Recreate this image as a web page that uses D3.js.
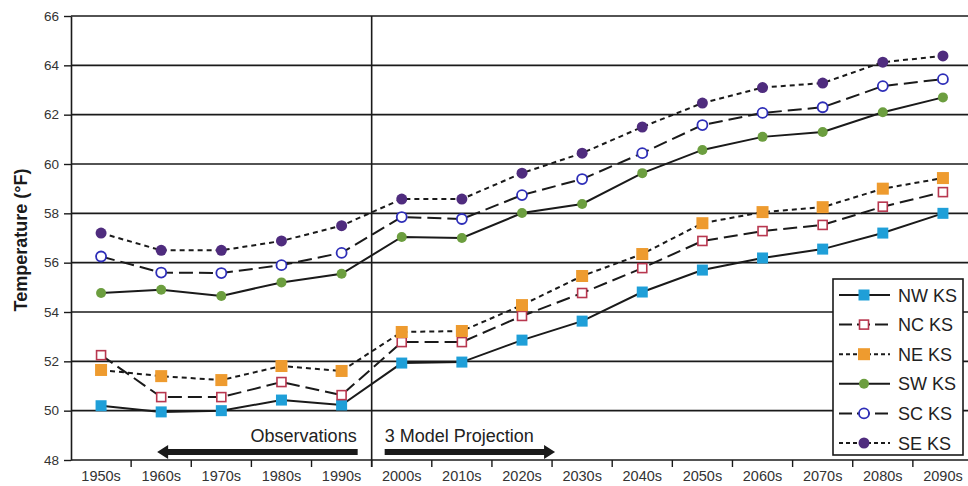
<!DOCTYPE html>
<html>
<head>
<meta charset="utf-8">
<script src="https://cdn.jsdelivr.net/npm/d3@7"></script>
<style>
  body { margin: 0; background: #fff; }
  svg { display: block; font-family: "Liberation Sans", Arial, Helvetica, sans-serif; }
</style>
</head>
<body>
<svg id="chart" width="968" height="486"></svg>
<script>
// Decadal mean temperatures (°F) for six Kansas regions
const decades = ["1950s","1960s","1970s","1980s","1990s","2000s","2010s","2020s",
                 "2030s","2040s","2050s","2060s","2070s","2080s","2090s"];
const yTickValues = [48, 50, 52, 54, 56, 58, 60, 62, 64, 66];

const nwKS = [50.2, 49.95, 50.0, 50.43, 50.23, 51.93, 51.97, 52.86, 53.63, 54.81, 55.7, 56.19, 56.55, 57.2, 58.0];
const ncKS = [52.25, 50.55, 50.55, 51.16, 50.63, 52.78, 52.78, 53.84, 54.77, 55.78, 56.88, 57.28, 57.53, 58.27, 58.86];
const neKS = [51.65, 51.4, 51.24, 51.81, 51.61, 53.19, 53.23, 54.28, 55.46, 56.35, 57.6, 58.05, 58.25, 59.0, 59.43];
const swKS = [54.77, 54.9, 54.65, 55.2, 55.55, 57.04, 57.0, 58.01, 58.38, 59.63, 60.57, 61.1, 61.3, 62.1, 62.7];
const scKS = [56.25, 55.6, 55.58, 55.9, 56.4, 57.85, 57.77, 58.74, 59.39, 60.44, 61.58, 62.07, 62.3, 63.16, 63.44];
const seKS = [57.2, 56.5, 56.5, 56.88, 57.5, 58.58, 58.58, 59.63, 60.44, 61.5, 62.47, 63.1, 63.28, 64.13, 64.38];

const seriesNames = ["NW KS", "NC KS", "NE KS", "SW KS", "SC KS", "SE KS"];
const seriesValues = [nwKS, ncKS, neKS, swKS, scKS, seKS];
const observedCount = 5; // first five decades are observations

// Drawing styles per series
const styles = [
  { dash: null,   shape: "square", size: 11, fill: "#1f9fd8", stroke: "#1f9fd8", sw: 0 },
  { dash: "14,6", shape: "square", size: 9,  fill: "#fff",    stroke: "#b8374f", sw: 1.6 },
  { dash: "5,4",  shape: "square", size: 12, fill: "#ee9b2f", stroke: "#ee9b2f", sw: 0 },
  { dash: null,   shape: "circle", size: 10, fill: "#6c9e3f", stroke: "#6c9e3f", sw: 0 },
  { dash: "14,6", shape: "circle", size: 10, fill: "#fff",    stroke: "#2e2eb8", sw: 1.8 },
  { dash: "5,4",  shape: "circle", size: 11, fill: "#4f2c7e", stroke: "#4f2c7e", sw: 0 }
];

const W = 968, H = 486;
const plot = { left: 71, right: 973, top: 16, bottom: 460 };

const svg = d3.select("#chart");

const x = d3.scaleBand().domain(decades).range([plot.left, plot.right]).padding(0);
const y = d3.scaleLinear().domain([48, 66]).range([plot.bottom, plot.top]);
const cx = d => x(d) + x.bandwidth() / 2;

// Horizontal gridlines
svg.append("g").selectAll("line").data(yTickValues).join("line")
  .attr("x1", plot.left).attr("x2", W)
  .attr("y1", d => y(d)).attr("y2", d => y(d))
  .attr("stroke", "#1a1a1a").attr("stroke-width", 1.6);

// Y axis
const yAxis = svg.append("g").attr("transform", `translate(${plot.left},0)`)
  .call(d3.axisLeft(y).tickValues(yTickValues).tickSize(7).tickSizeOuter(0).tickPadding(5));
yAxis.select(".domain").attr("stroke", "#1a1a1a").attr("stroke-width", 1.6);
yAxis.selectAll(".tick line").attr("stroke", "#1a1a1a").attr("stroke-width", 1.4);
yAxis.selectAll(".tick text").attr("font-size", 13.5).attr("fill", "#333");

// X axis: labels centred in each decade, ticks on decade boundaries
const xAxis = svg.append("g").attr("transform", `translate(0,${plot.bottom})`)
  .call(d3.axisBottom(x).tickSize(0).tickPadding(11));
xAxis.select(".domain").remove();
xAxis.selectAll(".tick text").attr("font-size", 14.5).attr("fill", "#333");

svg.append("g").selectAll("line").data(decades.slice(1).concat(["end"])).join("line")
  .attr("x1", d => d === "end" ? plot.right : x(d))
  .attr("x2", d => d === "end" ? plot.right : x(d))
  .attr("y1", plot.bottom).attr("y2", plot.bottom + 7)
  .attr("stroke", "#1a1a1a").attr("stroke-width", 1.4);

// Divider between observations and projections
const divX = x(decades[observedCount]);
svg.append("line")
  .attr("x1", divX).attr("x2", divX)
  .attr("y1", plot.top).attr("y2", plot.bottom + 7)
  .attr("stroke", "#1a1a1a").attr("stroke-width", 1.6);

// Y axis title
svg.append("text")
  .attr("transform", `translate(27,${(plot.top + plot.bottom) / 2 + 2}) rotate(-90)`)
  .attr("text-anchor", "middle")
  .attr("font-size", 18).attr("font-weight", "bold").attr("fill", "#1a1a1a")
  .text("Temperature (°F)");

// Period annotations with arrows
function arrow(x0, x1, yy) {
  const dir = Math.sign(x1 - x0);
  const headLen = 11, headHalf = 7, bar = 3;
  const xb = x1 - dir * headLen;
  const pts = [[x0, yy - bar], [xb, yy - bar], [xb, yy - headHalf], [x1, yy],
               [xb, yy + headHalf], [xb, yy + bar], [x0, yy + bar]];
  svg.append("path").attr("d", d3.line()(pts) + "Z").attr("fill", "#1a1a1a");
}
const annY = 452;
arrow(divX - 14, x(decades[1]) + 26, annY);
arrow(divX + 13, x(decades[8]) + 3, annY);

svg.append("text").attr("x", divX - 15).attr("y", 442)
  .attr("text-anchor", "end").attr("font-size", 18).attr("fill", "#222")
  .text("Observations");
svg.append("text").attr("x", divX + 13).attr("y", 442)
  .attr("text-anchor", "start").attr("font-size", 18).attr("fill", "#222")
  .text("3 Model Projection");

// Series lines
const line = d3.line().x((d, i) => cx(decades[i])).y(d => y(d));
function drawMarker(g, st, px, py) {
  if (st.shape === "square") {
    g.append("rect")
      .attr("x", px - st.size / 2).attr("y", py - st.size / 2)
      .attr("width", st.size).attr("height", st.size)
      .attr("fill", st.fill).attr("stroke", st.stroke).attr("stroke-width", st.sw);
  } else {
    g.append("circle").attr("cx", px).attr("cy", py).attr("r", st.size / 2)
      .attr("fill", st.fill).attr("stroke", st.stroke).attr("stroke-width", st.sw);
  }
}

const linesG = svg.append("g");
seriesValues.forEach((vals, k) => {
  linesG.append("path").datum(vals)
    .attr("d", line)
    .attr("fill", "none").attr("stroke", "#1a1a1a").attr("stroke-width", 2)
    .attr("stroke-dasharray", styles[k].dash);
});
const markersG = svg.append("g");
seriesValues.forEach((vals, k) => {
  vals.forEach((v, i) => drawMarker(markersG, styles[k], cx(decades[i]), y(v)));
});

// Legend
const lg = { x: 833, y: 279, w: 130, h: 176, row0: 295, step: 29.6 };
svg.append("rect").attr("x", lg.x).attr("y", lg.y).attr("width", lg.w).attr("height", lg.h)
  .attr("fill", "#fff").attr("stroke", "#1a1a1a").attr("stroke-width", 1.6);
const legendG = svg.append("g");
seriesNames.forEach((name, k) => {
  const ly = lg.row0 + k * lg.step;
  legendG.append("line").attr("x1", lg.x + 6).attr("x2", lg.x + 57)
    .attr("y1", ly).attr("y2", ly)
    .attr("stroke", "#1a1a1a").attr("stroke-width", 2)
    .attr("stroke-dasharray", styles[k].dash === "5,4" ? "4,3" : (styles[k].dash ? "13,5" : null));
  drawMarker(legendG, styles[k], lg.x + 31, ly);
  legendG.append("text").attr("x", lg.x + 65).attr("y", ly + 6.5)
    .attr("font-size", 18).attr("fill", "#222").text(name);
});
</script>
</body>
</html>
